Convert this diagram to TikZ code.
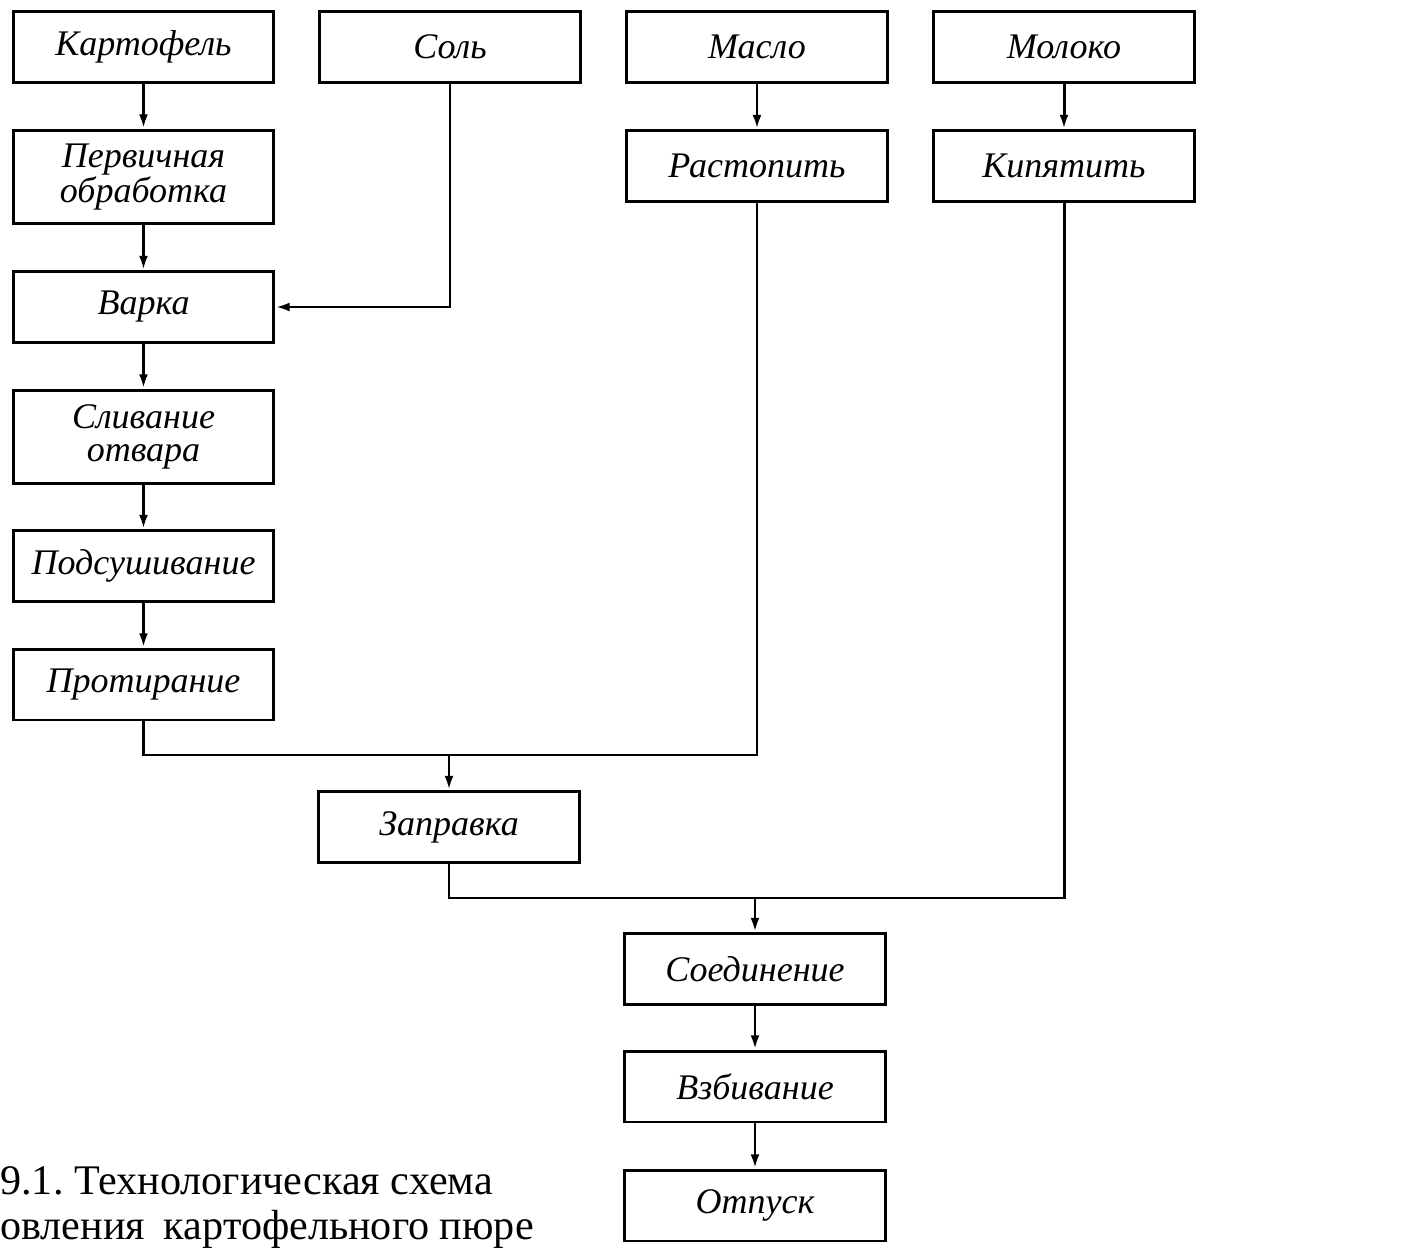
\documentclass[tikz,border=0pt]{standalone}
\usepackage{fontspec}
\setmainfont{Liberation Serif}
\usetikzlibrary{arrows.meta}
\tikzset{
  box/.style={draw, line width=1.7pt, minimum width=5.22cm, minimum height=1.42cm, inner sep=0pt, align=center, font=\fontsize{20.5}{19}\selectfont\itshape},
  tallbox/.style={box, minimum height=1.88cm},
  conn/.style={line width=1.7pt},
  arr/.style={conn, -{Latex[length=8pt,width=5pt]}}
}
\begin{document}
\frenchspacing
\begin{tikzpicture}[x=0.02cm,y=-0.02cm]
\useasboundingbox (0,0) rectangle (1411,1257);
\node[box] (kart) at (143.5,47) {Картофель};
\node[box] (sol) at (450,47) {Соль};
\node[box] (maslo) at (757,47) {Масло};
\node[box] (moloko) at (1064,47) {Молоко};
\node[tallbox] (perv) at (143.5,177) {Первичная\\обработка};
\node[box] (rast) at (757,166) {Растопить};
\node[box] (kip) at (1064,166) {Кипятить};
\node[box] (varka) at (143.5,307) {Варка};
\node[tallbox] (sliv) at (143.5,437) {Сливание\\отвара};
\node[box] (podsush) at (143.5,566) {Подсушивание};
\node[box] (protir) at (143.5,684.5) {Протирание};
\node[box] (zapr) at (449,827) {Заправка};
\node[box] (soed) at (755,969) {Соединение};
\node[box] (vzb) at (755,1086.5) {Взбивание};
\node[box] (otp) at (755,1205.5) {Отпуск};
\coordinate (j1) at (449,755);
\coordinate (j2) at (755,898);
\draw[arr] (kart) -- (perv);
\draw[arr] (perv) -- (varka);
\draw[arr] (sol.south) |- (varka.east);
\draw[arr] (varka) -- (sliv);
\draw[arr] (sliv) -- (podsush);
\draw[arr] (podsush) -- (protir);
\draw[arr] (maslo) -- (rast);
\draw[arr] (moloko) -- (kip);
\draw[conn] (protir.south) |- (j1) -| (rast.south);
\draw[arr] (j1) -- (zapr.north);
\draw[conn] (zapr.south) |- (j2) -| (kip.south);
\draw[arr] (j2) -- (soed.north);
\draw[arr] (soed) -- (vzb);
\draw[arr] (vzb) -- (otp);
\node[anchor=base west, inner sep=0pt, font=\fontsize{24}{26}\selectfont] (cap1) at (0,1194) {9.1. Технологическая схема};
\node[anchor=base west, inner sep=0pt, font=\fontsize{24}{26}\selectfont] (cap2) at (0,1239) {овления\hspace{0.45em}картофельного пюре};
\end{tikzpicture}
\end{document}
